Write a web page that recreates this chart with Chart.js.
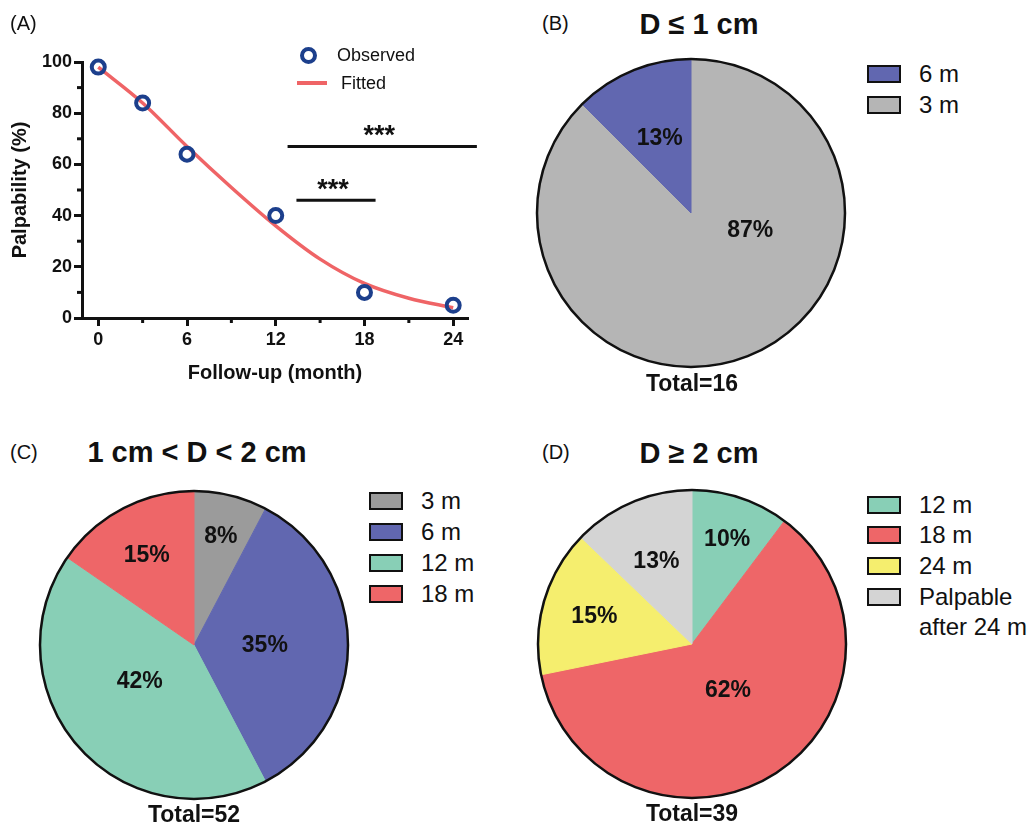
<!DOCTYPE html>
<html>
<head>
<meta charset="utf-8">
<script src="https://cdn.jsdelivr.net/npm/chart.js@4.4.1/dist/chart.umd.min.js"></script>
<style>
  body { margin: 0; background: #fff; }
  #fig { position: relative; width: 1034px; height: 826px; overflow: hidden;
         font-family: "Liberation Sans", Arial, sans-serif; color: #111; }
  #fig canvas { position: absolute; }
  .c { position: absolute; line-height: 1; white-space: nowrap; transform: translate(-50%, -50%); }
  .tag { position: absolute; line-height: 1; font-size: 20px; transform: translateY(-50%); }
  .title { font-size: 29px; font-weight: bold; }
  .total { font-size: 23px; font-weight: bold; }
  .key { position: absolute; font-size: 24px; line-height: 30px; white-space: nowrap; }
  .box { position: absolute; width: 30px; height: 14px; border: 2.5px solid #111; }
  .obs { position: absolute; width: 9px; height: 9px; border: 4px solid #1c3f8c; border-radius: 50%; }
  .fit { position: absolute; width: 30px; height: 4px; background: #ef6466; }
  .lk { position: absolute; font-size: 18px; line-height: 1; transform: translateY(-50%); }
</style>
</head>
<body>
<div id="fig">
  <canvas id="chartA" width="510" height="400" style="left:0;top:0"></canvas>
  <canvas id="chartB" width="330" height="330" style="left:526px;top:48px"></canvas>
  <canvas id="chartC" width="330" height="330" style="left:29px;top:480px"></canvas>
  <canvas id="chartD" width="330" height="330" style="left:527px;top:479px"></canvas>

  <div class="tag" style="left:10px;top:23px">(A)</div>
  <div class="tag" style="left:542px;top:23px">(B)</div>
  <div class="tag" style="left:10px;top:452px">(C)</div>
  <div class="tag" style="left:542px;top:452px">(D)</div>

  <div class="c title" style="left:699px;top:24px">D ≤ 1 cm</div>
  <div class="c title" style="left:197px;top:452px">1 cm &lt; D &lt; 2 cm</div>
  <div class="c title" style="left:699px;top:453px">D ≥ 2 cm</div>

  <div class="c total" id="totB" style="left:692px;top:383px"></div>
  <div class="c total" id="totC" style="left:194px;top:814px"></div>
  <div class="c total" id="totD" style="left:692px;top:813px"></div>

  <!-- legend of panel A -->
  <div class="obs" style="left:300px;top:47px"></div>
  <div class="lk" style="left:337px;top:55px">Observed</div>
  <div class="fit" style="left:297px;top:81px"></div>
  <div class="lk" style="left:341px;top:83px">Fitted</div>
</div>

<script>
// Panel A: palpability over follow-up
const months = [0, 3, 6, 12, 18, 24];
const observed = [98, 84, 64, 40, 10, 5];
const fitMonths = [0, 3, 6, 9, 12, 15, 18, 21, 24];
const fitted = [98, 84, 67, 51, 36, 23, 13.5, 7.7, 4];
const xTicks = [0, 3, 6, 9, 12, 15, 18, 21, 24];
const yTicks = [0, 10, 20, 30, 40, 50, 60, 70, 80, 90, 100];

// Panel B: D <= 1 cm (clockwise from 12 o'clock)
const bLabels = ['3 m', '6 m'];
const bCounts = [14, 2];
const bPct = ['87%', '13%'];

// Panel C: 1 cm < D < 2 cm
const cLabels = ['3 m', '6 m', '12 m', '18 m'];
const cCounts = [4, 18, 22, 8];
const cPct = ['8%', '35%', '42%', '15%'];

// Panel D: D >= 2 cm
const dLabels = ['12 m', '18 m', '24 m', 'Palpable after 24 m'];
const dCounts = [4, 24, 6, 5];
const dPct = ['10%', '62%', '15%', '13%'];

const FONT = '"Liberation Sans", Arial, sans-serif';
const INK = '#111';
Chart.defaults.font.family = FONT;
Chart.defaults.color = INK;

// significance bars in panel A (data units)
const sigBars = [
  { from: 12.8, to: 25.6, y: 67 },
  { from: 13.4, to: 18.75, y: 46 }
];

const sigPlugin = {
  id: 'sig',
  afterDraw(chart) {
    const ctx = chart.ctx;
    const xs = chart.scales.x, ys = chart.scales.y;
    ctx.save();
    // short minor ticks
    ctx.strokeStyle = INK;
    ctx.lineWidth = 3;
    xTicks.filter(v => v % 6 !== 0).forEach(v => {
      const px = xs.getPixelForValue(v);
      ctx.beginPath(); ctx.moveTo(px, ys.bottom); ctx.lineTo(px, ys.bottom + 5); ctx.stroke();
    });
    yTicks.filter(v => v % 20 !== 0).forEach(v => {
      const py = ys.getPixelForValue(v);
      ctx.beginPath(); ctx.moveTo(xs.left, py); ctx.lineTo(xs.left - 5, py); ctx.stroke();
    });
    // bars with stars
    ctx.fillStyle = INK;
    ctx.font = 'bold 27px ' + FONT;
    ctx.textAlign = 'center';
    ctx.textBaseline = 'alphabetic';
    sigBars.forEach(b => {
      const x1 = xs.getPixelForValue(b.from), x2 = xs.getPixelForValue(b.to);
      const py = ys.getPixelForValue(b.y);
      ctx.beginPath(); ctx.moveTo(x1, py); ctx.lineTo(x2, py); ctx.stroke();
      ctx.fillText('***', (x1 + x2) / 2 - 3, py - 2);
    });
    ctx.restore();
  }
};

new Chart(document.getElementById('chartA'), {
  type: 'line',
  data: {
    datasets: [
      {
        label: 'Observed',
        data: months.map((m, i) => ({ x: m, y: observed[i] })),
        showLine: false,
        pointRadius: 6.5,
        pointBorderWidth: 4,
        pointBorderColor: '#1c3f8c',
        pointBackgroundColor: 'rgba(0,0,0,0)',
        clip: false
      },
      {
        label: 'Fitted',
        data: fitMonths.map((m, i) => ({ x: m, y: fitted[i] })),
        borderColor: '#ef6466',
        borderWidth: 3.5,
        pointRadius: 0,
        cubicInterpolationMode: 'monotone',
        clip: false
      }
    ]
  },
  options: {
    responsive: false,
    animation: false,
    layout: { padding: { top: 62, right: 42, left: 0, bottom: 0 } },
    plugins: { legend: { display: false }, tooltip: { enabled: false } },
    scales: {
      x: {
        type: 'linear', min: -1.1, max: 25,
        afterBuildTicks: s => { s.ticks = xTicks.map(v => ({ value: v })); },
        afterFit: s => { s.height = 82; },
        ticks: {
          autoSkip: false, maxRotation: 0, padding: 3, color: INK,
          font: { size: 18, weight: 'bold' },
          callback: v => (v % 6 === 0 ? v : '')
        },
        grid: {
          drawOnChartArea: false, tickLength: 8, tickWidth: 3,
          tickColor: c => (c.tick && c.tick.value % 6 !== 0 ? 'rgba(0,0,0,0)' : INK)
        },
        border: { color: INK, width: 3 },
        title: {
          display: true, text: 'Follow-up (month)', color: INK,
          font: { size: 20, weight: 'bold' }, padding: { top: 0, bottom: 15 }
        }
      },
      y: {
        min: 0, max: 100,
        afterBuildTicks: s => { s.ticks = yTicks.map(v => ({ value: v })); },
        afterFit: s => { s.width = 82; },
        ticks: {
          autoSkip: false, padding: 2, color: INK,
          font: { size: 18, weight: 'bold' },
          callback: v => (v % 20 === 0 ? v : '')
        },
        grid: {
          drawOnChartArea: false, tickLength: 8, tickWidth: 3,
          tickColor: c => (c.tick && c.tick.value % 20 !== 0 ? 'rgba(0,0,0,0)' : INK)
        },
        border: { color: INK, width: 3 },
        title: {
          display: true, text: 'Palpability (%)', color: INK,
          font: { size: 20, weight: 'bold' }, padding: { top: 8, bottom: 0 }
        }
      }
    }
  },
  plugins: [sigPlugin]
});

// percent labels + black rim for the pies
// spots: r = fraction of radius, a = angle (deg clockwise from top) or null for slice middle
function pieText(texts, spots) {
  return {
    id: 'pieText',
    afterDatasetsDraw(chart) {
      const ctx = chart.ctx;
      const arcs = chart.getDatasetMeta(0).data;
      ctx.save();
      ctx.font = 'bold 23px ' + FONT;
      ctx.fillStyle = INK;
      ctx.textAlign = 'center';
      ctx.textBaseline = 'middle';
      arcs.forEach((arc, i) => {
        const s = spots[i];
        const ang = s.a != null ? (s.a - 90) * Math.PI / 180 : (arc.startAngle + arc.endAngle) / 2;
        const r = arc.outerRadius * s.r;
        ctx.fillText(texts[i], arc.x + r * Math.cos(ang), arc.y + r * Math.sin(ang) + 1);
      });
      const a0 = arcs[0];
      ctx.beginPath();
      ctx.arc(a0.x, a0.y, a0.outerRadius, 0, Math.PI * 2);
      ctx.lineWidth = 2.5;
      ctx.strokeStyle = INK;
      ctx.stroke();
      ctx.restore();
    }
  };
}

function makePie(id, labels, counts, colors, texts, spots) {
  new Chart(document.getElementById(id), {
    type: 'pie',
    data: {
      labels: labels,
      datasets: [{ data: counts, backgroundColor: colors, borderColor: colors, borderWidth: 1 }]
    },
    options: {
      responsive: false,
      animation: false,
      radius: 154,
      plugins: { legend: { display: false }, tooltip: { enabled: false } }
    },
    plugins: [pieText(texts, spots)]
  });
}

function makeKey(x, rows, labels, colors) {
  const fig = document.getElementById('fig');
  labels.forEach((lab, i) => {
    const box = document.createElement('div');
    box.className = 'box';
    box.style.left = x + 'px';
    box.style.top = (rows[i] - 9.5) + 'px';
    box.style.background = colors[i];
    fig.appendChild(box);
    const t = document.createElement('div');
    t.className = 'key';
    t.style.left = (x + 52) + 'px';
    t.style.top = (rows[i] - 15) + 'px';
    t.innerHTML = lab.replace('Palpable ', 'Palpable<br>');
    fig.appendChild(t);
  });
}

const sum = a => a.reduce((p, q) => p + q, 0);

const bColors = ['#b5b5b5', '#6167b0'];
makePie('chartB', bLabels, bCounts, bColors, bPct, [{ r: 0.40, a: 106 }, { r: 0.53, a: null }]);
makeKey(867, [74, 105], [bLabels[1], bLabels[0]], [bColors[1], bColors[0]]);
document.getElementById('totB').textContent = 'Total=' + sum(bCounts);

const cColors = ['#9b9b9b', '#6167b0', '#88cfb6', '#ee6668'];
makePie('chartC', cLabels, cCounts, cColors, cPct,
  [{ r: 0.73, a: null }, { r: 0.46, a: null }, { r: 0.42, a: 237 }, { r: 0.66, a: null }]);
makeKey(369, [501, 532, 563, 594], cLabels, cColors);
document.getElementById('totC').textContent = 'Total=' + sum(cCounts);

const dColors = ['#88cfb6', '#ee6668', '#f5ee6e', '#d4d4d4'];
makePie('chartD', dLabels, dCounts, dColors, dPct,
  [{ r: 0.72, a: null }, { r: 0.38, a: 142 }, { r: 0.66, a: null }, { r: 0.59, a: null }]);
makeKey(867, [505, 535, 566, 597], dLabels, dColors);
document.getElementById('totD').textContent = 'Total=' + sum(dCounts);
</script>
</body>
</html>
